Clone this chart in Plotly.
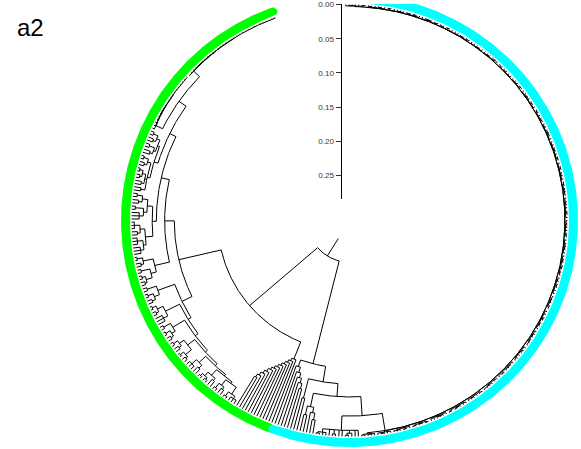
import numpy as np
import plotly.graph_objects as go

# ---------------------------------------------------------------------------
# Tree, written as nested groups "(child,child,...)h" where h is the height of
# the node above the tips (tips sit at 0). Tips are unnamed.
# ---------------------------------------------------------------------------

# green clade ---------------------------------------------------------------
TOP_GROUP = "(((((,,,,,,, ,,,,,,, ,,,,,,, ,,,,,,,)0.001,)0.0012,)0.0014,)0.0016,)0.0018"
Z1 = "((((((,,,,,,, ,,,,,,,)0.001,)0.0013,)0.0016,)0.002,)0.0024,)0.003"
Z2 = ("((((,)0.005,(,)0.008)0.012,((,)0.006,(,)0.010)0.014)0.017,"
      "(((,)0.004,(,)0.007)0.011,(((,)0.003,(,)0.005)0.008,(,)0.009)0.013,(,)0.010)0.016)0.020")
Z3 = ("((((,)0.006,(,)0.009)0.014,((,)0.005,(,,)0.011)0.017)0.022,"
      "(((,,)0.004,(,)0.008)0.012,((,,)0.007,(,,)0.010)0.015)0.019)0.030")
Z4 = "(((,)0.003,(,)0.007)0.011,((,)0.005,((,)0.004,(,)0.006)0.009)0.018)0.026"
LOWER_GROUPS = [
    "((,)0.006,((,)0.004,(,)0.007)0.012)0.020",
    "(((,)0.003,(,)0.005)0.009,(,,)0.011)0.018",
    "((,)0.005,((,)0.003,(,)0.006)0.010)0.016",
    "(((,)0.004,(,)0.007)0.011,((,)0.002,(,)0.005)0.008)0.019",
    "((,,)0.006,(,)0.009)0.015",
    "(((,)0.003,(,)0.004)0.007,(,)0.010)0.014",
    "((,)0.004,(,)0.008)0.012",
    "((,)0.003,(,,)0.006)0.010",
]
LOWER_RUNGS = [0.046, 0.041, 0.036, 0.032, 0.028, 0.025, 0.022]
COMB_A = ("((((((((((((,)0.05,)0.055,)0.06,)0.065,)0.07,)0.074,)0.078,"
          ")0.082,)0.086,)0.09,)0.094,)0.098")

# cyan clade ----------------------------------------------------------------
COMB_B = "(,(,(,(,(,)0.06)0.068)0.075)0.082)0.09"
D1 = "(,)0.048"
E0 = "((,)0.025,(,(,)0.02)0.03)0.038"
E1 = "(((,)0.002,,)0.004,,(,)0.003,,,((,)0.002,)0.005,,)0.009"
BAND_GROUPS = [
    "((,)0.0016,(,,)0.0024)0.0027", "(,(,)0.0012,,)0.0024", "((,,)0.0016,(,)0.0008,)0.0027",
    "((,)0.0012,(,)0.0016,(,)0.0008)0.0024", "(,,(,,)0.0016,)0.0027",
    "((,)0.0008,((,)0.0008,)0.0016,(,)0.002)0.0027", "(,(,)0.0016,,(,)0.0012)0.0024",
    "((,,,)0.0016,(,)0.002)0.0027", "(,(,)0.0008,(,,)0.0016,)0.0024",
    "((,)0.0016,,(,)0.0012,)0.0027", "((,,)0.0012,(,)0.002,)0.0024",
    "(,(,)0.0016,(,)0.0008,,)0.0027", "((,)0.0008,(,,)0.0016)0.0024",
    "(,,(,)0.0012,(,)0.002)0.0027", "((,)0.0016,(,)0.0008,(,)0.0012,)0.0024",
    "(,(,,)0.0016,)0.0027", "((,)0.0012,,(,,)0.002)0.0027",
    "(,(,)0.0008,,(,)0.0016,)0.0024", "((,,)0.0016,(,)0.0012)0.0024",
    "(,(,)0.002,(,)0.0008,)0.0027", "((,)0.0008,,(,)0.0016,,)0.0024",
    "(,(,,)0.0012,(,)0.002)0.0027", "((,)0.0016,,(,)0.0008)0.0024",
    "(,(,)0.0012,(,,)0.0016,)0.0027", "((,)0.0008,(,)0.002,)0.0024",
    "(,,(,)0.0016,(,)0.0012)0.0027", "((,,)0.0008,(,)0.0016,)0.0024",
    "(,(,)0.002,,)0.0027", "((,)0.0012,(,)0.0016,,)0.0024",
    "(,(,)0.0008,(,)0.0016)0.0027", "((,)0.0016,(,,)0.0012,)0.0027",
    "(,(,)0.0008,(,)0.0016)0.0024", "((,,)0.002,,(,)0.0008)0.0027",
    "(,(,)0.0012,,(,)0.0016)0.0024", "((,)0.0012,,(,,)0.0016,)0.0020",
]
BAND_RUNGS = [0.0045, 0.0045, 0.0044, 0.0044, 0.0043, 0.0043, 0.0042, 0.0042,
              0.0041, 0.0041, 0.0040, 0.0040, 0.0039, 0.0039, 0.0038, 0.0038,
              0.0037, 0.0037, 0.0036, 0.0036, 0.0035, 0.0035, 0.0034, 0.0034,
              0.0033, 0.0033, 0.0032, 0.0032, 0.0031, 0.0031, 0.0031, 0.0030,
              0.0030, 0.0030, 0.0030]

ROOT_EDGE = 0.285          # length of the root stub, measured from the tips
SCALE_TICKS = [0.00, 0.05, 0.10, 0.15, 0.20, 0.25]
CLADE_COLOURS = ["#00FF00", "#00FFFF"]
PANEL_LABEL = "a2"


def ladder(groups, heights):
    """(g1,(g2,(g3,...))) with heights[0] on the outermost node."""
    text = groups[-1]
    for g, h in zip(reversed(groups[:-1]), reversed(heights)):
        text = f"({g},{text}){h}"
    return text


R1 = f"({TOP_GROUP},{Z1})0.0135"
R2 = f"({R1},{Z2})0.026"
R3 = f"({R2},{Z3})0.036"
R4 = f"({R3},{Z4})0.048"
A1 = f"({R4},{ladder(LOWER_GROUPS, LOWER_RUNGS)})0.062"
CLADE_A = f"({A1},{COMB_A})0.125"
D3 = f"({E1},{ladder(BAND_GROUPS, BAND_RUNGS)})0.030"
D2 = f"({E0},{D3})0.058"
CLADE_B = f"({COMB_B},({D1},{D2})0.077)0.100"
TREE = f"({CLADE_A},{CLADE_B})0.255"


def parse(text):
    s = text.replace(" ", "")
    pos = 0

    def node():
        nonlocal pos
        if pos < len(s) and s[pos] == "(":
            pos += 1
            kids = [node()]
            while s[pos] == ",":
                pos += 1
                kids.append(node())
            pos += 1  # ")"
            j = pos
            while pos < len(s) and (s[pos].isdigit() or s[pos] == "."):
                pos += 1
            return {"kids": kids, "h": float(s[j:pos]) if pos > j else 0.0}
        return {"kids": [], "h": 0.0}

    return node()


tree = parse(TREE)

# ---------------------------------------------------------------------------
# circular layout: tips evenly spaced, inner nodes at the mean of their children
# ---------------------------------------------------------------------------
W, H = 581, 449
PX_PER_UNIT = 690.0
CX, CY = 349.5, 218.5                 # centre of the circle, px
TIP_R = 218.0 / PX_PER_UNIT           # radius of the tips
THETA_FIRST, THETA_LAST = 110.0, 451.0

tips = []


def gather(n):
    if not n["kids"]:
        tips.append(n)
    for k in n["kids"]:
        gather(k)


gather(tree)
step = (THETA_LAST - THETA_FIRST) / (len(tips) - 1)
for i, t in enumerate(tips):
    t["theta"] = THETA_FIRST + i * step


def place(n):
    if n["kids"]:
        for k in n["kids"]:
            place(k)
        n["theta"] = float(np.mean([k["theta"] for k in n["kids"]]))


place(tree)


def rad(h):
    return TIP_R - h


xs, ys = [], []


def radial(theta, h0, h1):
    t = np.radians(theta)
    xs.extend([rad(h0) * np.cos(t), rad(h1) * np.cos(t), None])
    ys.extend([rad(h0) * np.sin(t), rad(h1) * np.sin(t), None])


def arc(t0, t1, h):
    n = max(2, int(abs(t1 - t0) / 0.4) + 2)
    t = np.radians(np.linspace(t0, t1, n))
    xs.extend(list(rad(h) * np.cos(t)) + [None])
    ys.extend(list(rad(h) * np.sin(t)) + [None])


def draw(n):
    if not n["kids"]:
        return
    angles = [k["theta"] for k in n["kids"]]
    arc(min(angles), max(angles), n["h"])
    for k in n["kids"]:
        radial(k["theta"], n["h"], k["h"])
        draw(k)


draw(tree)
radial(tree["theta"], ROOT_EDGE, tree["h"])


def clade_span(n):
    leaves = []

    def g(m):
        if not m["kids"]:
            leaves.append(m["theta"])
        for k in m["kids"]:
            g(k)

    g(n)
    return min(leaves), max(leaves)


# coloured strips outside the tips, with rounded ends
STRIP_MID = 224.0 / PX_PER_UNIT
STRIP_W = 9.0 / PX_PER_UNIT


def strip(t0, t1):
    ro, ri, hw = STRIP_MID + STRIP_W / 2, STRIP_MID - STRIP_W / 2, STRIP_W / 2
    px, py = [], []
    ang = np.radians(np.linspace(t0, t1, 300))
    px += list(ro * np.cos(ang)); py += list(ro * np.sin(ang))
    a1 = np.radians(t1)
    n1, tg = np.array([np.cos(a1), np.sin(a1)]), np.array([-np.sin(a1), np.cos(a1)])
    c = STRIP_MID * n1
    for phi in np.linspace(0, np.pi, 30):
        p = c + hw * (np.cos(phi) * n1 + np.sin(phi) * tg)
        px.append(p[0]); py.append(p[1])
    px += list(ri * np.cos(ang[::-1])); py += list(ri * np.sin(ang[::-1]))
    a0 = np.radians(t0)
    n0, tg0 = np.array([np.cos(a0), np.sin(a0)]), np.array([-np.sin(a0), np.cos(a0)])
    c = STRIP_MID * n0
    for phi in np.linspace(np.pi, 2 * np.pi, 30):
        p = c + hw * (np.cos(phi) * n0 + np.sin(phi) * tg0)
        px.append(p[0]); py.append(p[1])
    return px, py


fig = go.Figure()
for clade, colour in zip(tree["kids"], CLADE_COLOURS):
    t0, t1 = clade_span(clade)
    px, py = strip(t0, t1)
    fig.add_trace(go.Scatter(x=px, y=py, mode="lines", fill="toself",
                             fillcolor=colour, line=dict(width=0),
                             hoverinfo="skip"))

fig.add_trace(go.Scatter(x=xs, y=ys, mode="lines",
                         line=dict(color="black", width=1),
                         hoverinfo="skip"))

# scale axis (distance from the tips)
SCALE_X_PX = 341.5
top_px = CY - TIP_R * PX_PER_UNIT
bottom_px = top_px + ROOT_EDGE * PX_PER_UNIT
fig.add_trace(go.Scatter(x=[0], y=[0], xaxis="x2", yaxis="y2", mode="lines",
                         line=dict(width=0), hoverinfo="skip"))

fig.update_layout(
    width=W, height=H,
    margin=dict(l=0, r=0, t=0, b=0),
    paper_bgcolor="white", plot_bgcolor="rgba(0,0,0,0)",
    showlegend=False,
    xaxis=dict(range=[-CX / PX_PER_UNIT, (W - CX) / PX_PER_UNIT],
               visible=False, domain=[0, 1]),
    yaxis=dict(range=[-(H - CY) / PX_PER_UNIT, CY / PX_PER_UNIT],
               visible=False, domain=[0, 1]),
    xaxis2=dict(domain=[SCALE_X_PX / W, SCALE_X_PX / W + 0.01], range=[0, 1],
                visible=False, anchor="y2"),
    yaxis2=dict(domain=[1 - bottom_px / H, 1], anchor="x2",
                range=[ROOT_EDGE, -top_px / PX_PER_UNIT],
                showline=True, linecolor="black", linewidth=1,
                ticks="outside", ticklen=5, tickwidth=1, tickcolor="#333333",
                tickvals=SCALE_TICKS, ticktext=[f"{v:.2f}" for v in SCALE_TICKS],
                ticklabeloverflow="allow",
                tickfont=dict(family="Arial, Liberation Sans", size=8, color="#333333"),
                showgrid=False, zeroline=False),
    annotations=[dict(text=PANEL_LABEL, x=15 / W, y=1 - 8 / H, xref="paper",
                      yref="paper", xanchor="left", yanchor="top",
                      showarrow=False,
                      font=dict(family="Arial, Liberation Sans", size=24,
                                color="black"))],
)

fig.write_html("out.html")
